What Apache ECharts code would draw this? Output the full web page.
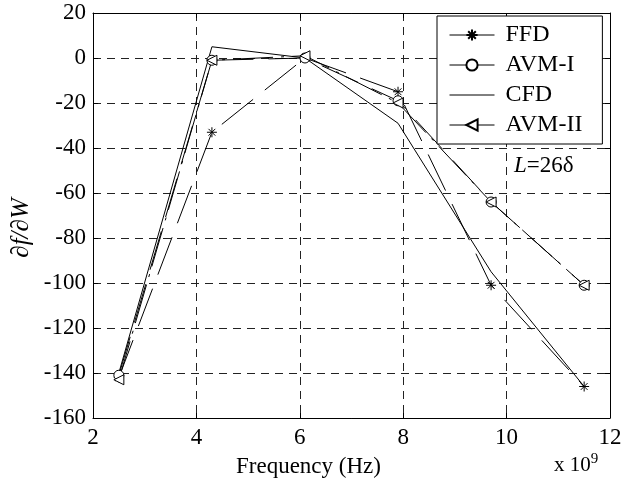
<!DOCTYPE html>
<html>
<head>
<meta charset="utf-8">
<script src="https://cdn.jsdelivr.net/npm/echarts@6/dist/echarts.min.js"></script>
<style>html,body{margin:0;padding:0;background:#fff}#c{width:640px;height:500px}</style>
</head>
<body>
<div id="c"></div>
<script>
var freq = [2.5, 4.3, 6.1, 7.9, 9.7, 11.5];
var ffd  = [-142, -33, 0, -15, -101, -146];
var avm1 = [-141, -1, 0, -19, -64, -101];
var cfd  = [-140, 5, 0, -29, -95, -146];
var avm2 = [-143, -1, 1, -20, -64, -101];

function pts(ys){ return freq.map(function(f,i){ return [f, ys[i]]; }); }
var FONT = '"Liberation Serif", "DejaVu Serif", serif';
var star = 'path://M5,0L5,10M0,5L10,5M1.6,1.6L8.4,8.4M8.4,1.6L1.6,8.4';

var chart = echarts.init(document.getElementById('c'));
var aLine = {show: true, onZero: false, lineStyle: {color: '#000', width: 1}};
var aTick = {show: true, inside: true, length: 5, lineStyle: {color: '#000'}};
var gridLine = {show: true, lineStyle: {color: '#222', type: [8, 6], width: 1}};
chart.setOption({
  animation: false,
  backgroundColor: '#fff',
  textStyle: {fontFamily: FONT},
  grid: {left: 93, right: 30, top: 13, bottom: 82},
  xAxis: [
    {type: 'value', min: 2, max: 12, interval: 2, position: 'bottom',
      axisLabel: {color: '#000', fontSize: 23, fontFamily: FONT, margin: 8},
      axisLine: aLine, axisTick: aTick, splitLine: gridLine},
    {type: 'value', min: 2, max: 12, interval: 2, position: 'top',
      axisLabel: {show: false}, axisLine: aLine, axisTick: aTick, splitLine: {show: false}}
  ],
  yAxis: [
    {type: 'value', min: -160, max: 20, interval: 20, position: 'left',
      axisLabel: {color: '#000', fontSize: 23, fontFamily: FONT, margin: 7},
      axisLine: aLine, axisTick: aTick, splitLine: gridLine},
    {type: 'value', min: -160, max: 20, interval: 20, position: 'right',
      axisLabel: {show: false}, axisLine: aLine, axisTick: aTick, splitLine: {show: false}}
  ],
  legend: {
    orient: 'vertical', left: 437, top: 16,
    padding: [7, 20, 7, 12],
    backgroundColor: '#fff', borderColor: '#000', borderWidth: 1, borderRadius: 0,
    itemWidth: 45, itemHeight: 14, itemGap: 6,
    textStyle: {fontSize: 24, fontFamily: FONT, color: '#000', lineHeight: 23, padding: [0,0,0,6]},
    lineStyle: {type: 'solid', width: 1, color: '#000'},
    data: ['FFD', 'AVM-I', {name: 'CFD', itemStyle: {color: 'none', borderWidth: 0, opacity: 0}}, 'AVM-II']
  },
  series: [
    {name: 'FFD', type: 'line', data: pts(ffd), symbol: star, symbolSize: 10,
      lineStyle: {color: '#000', width: 1, type: [40, 15]},
      itemStyle: {color: 'none', borderColor: '#000', borderWidth: 1}, z: 3},
    {name: 'AVM-I', type: 'line', data: pts(avm1), symbol: 'circle', symbolSize: 10,
      lineStyle: {color: '#000', width: 1, type: [40, 15]},
      itemStyle: {color: '#fff', borderColor: '#000', borderWidth: 1}, z: 3},
    {name: 'CFD', type: 'line', data: pts(cfd), symbol: 'circle', symbolSize: 1, showSymbol: false,
      lineStyle: {color: '#000', width: 1, type: 'solid'},
      itemStyle: {color: '#000'}, z: 3},
    {name: 'AVM-II', type: 'line', data: pts(avm2), symbol: 'triangle', symbolSize: 10, symbolRotate: 90,
      lineStyle: {color: '#000', width: 1, type: [40, 8, 3, 8]},
      itemStyle: {color: '#fff', borderColor: '#000', borderWidth: 1}, z: 3}
  ],
  graphic: [
    {type: 'text', left: 236, top: 455, style: {text: 'Frequency (Hz)', fontSize: 23, fontFamily: FONT, fill: '#000'}},
    {type: 'text', left: 554, top: 452, style: {
      rich: {a: {fontSize: 21, fontFamily: FONT, fill: '#000'}, s: {fontSize: 15, fontFamily: FONT, fill: '#000', verticalAlign: 'top', padding: [0,0,12,0]}},
      text: '{a|x 10}{s|9}'}},
    {type: 'text', left: 514, top: 154, style: {
      rich: {i: {fontSize: 23, fontFamily: FONT, fontStyle: 'italic', fill: '#000'}, n: {fontSize: 23, fontFamily: FONT, fill: '#000'}},
      text: '{i|L}{n|=26δ}'}},
    {type: 'text', x: 21, y: 228, rotation: Math.PI/2, style: {
      text: '∂f/∂W', fontSize: 25, fontFamily: FONT, fontStyle: 'italic', fill: '#000', align: 'center', verticalAlign: 'middle'}}
  ]
});
</script>
</body>
</html>
